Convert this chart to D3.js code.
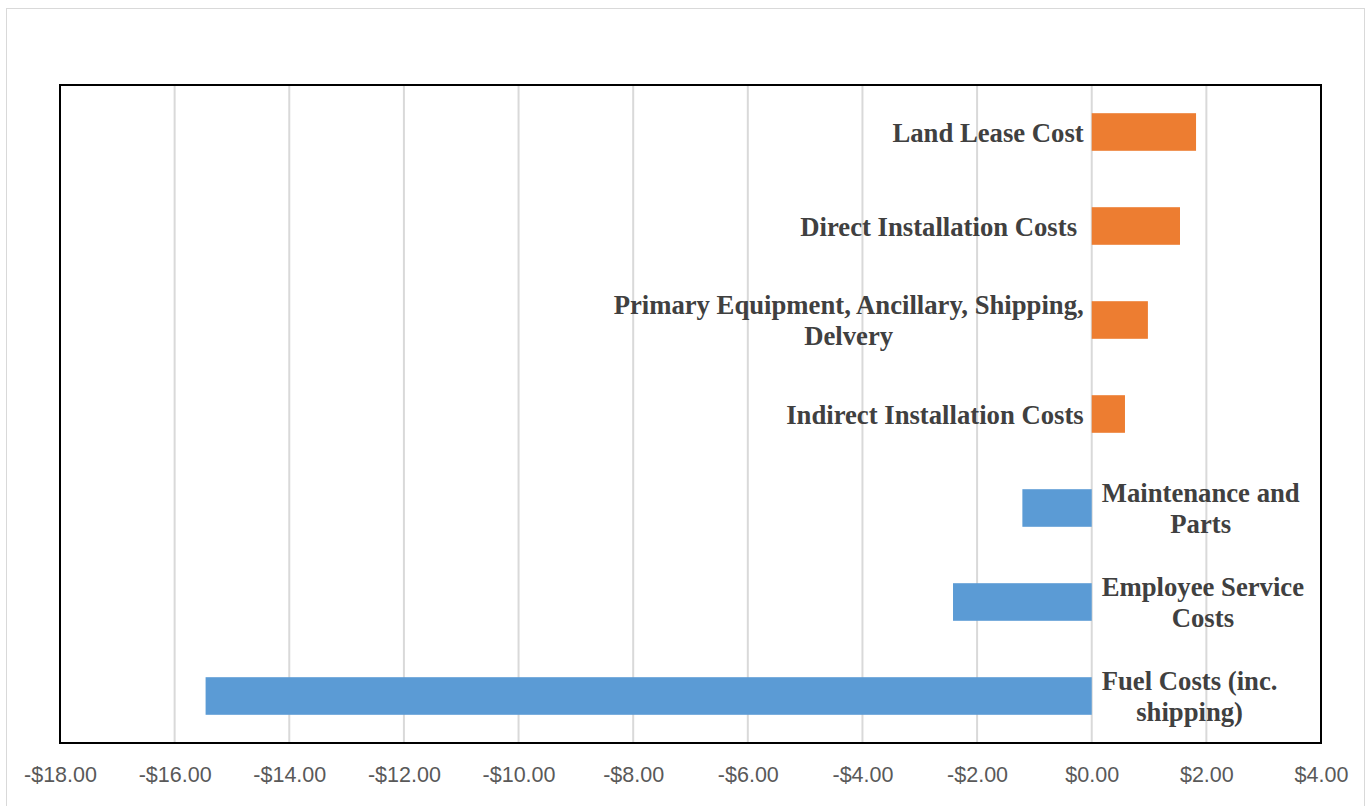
<!DOCTYPE html>
<html><head><meta charset="utf-8">
<script src="https://cdn.jsdelivr.net/npm/d3@7"></script>
<style>
html,body{margin:0;padding:0;background:#fff;}
svg{display:block;}
.cat{font-family:"Liberation Serif","DejaVu Serif";font-weight:bold;font-size:26.7px;fill:#404040;white-space:pre;}
.tick text{font-family:"Liberation Sans","Arial";font-size:21.5px;fill:#595959;}
</style></head>
<body>
<svg id="chart" width="1370" height="806"></svg>
<script>
const categories = [
  ["Land Lease Cost"],
  ["Direct Installation Costs "],
  ["Primary Equipment, Ancillary, Shipping,", "Delvery"],
  ["Indirect Installation Costs"],
  ["Maintenance and", "Parts"],
  ["Employee Service", "Costs"],
  ["Fuel Costs (inc.", "shipping)"]
];
const values = [1.82, 1.54, 0.98, 0.58, -1.21, -2.42, -15.46];
const tickValues = [-18, -16, -14, -12, -10, -8, -6, -4, -2, 0, 2, 4];
const colorPos = "#ED7D31", colorNeg = "#5B9BD5";

const svg = d3.select("#chart");
const plot = {left: 60, right: 1321, top: 85, bottom: 743};

// outer chart border
svg.append("rect").attr("x", 6.5).attr("y", 8.5).attr("width", 1358).attr("height", 810)
  .attr("fill", "none").attr("stroke", "#D9D9D9").attr("stroke-width", 1);

const x = d3.scaleLinear().domain([-18, 4]).range([plot.left, plot.right]);
const y = d3.scaleBand().domain(d3.range(categories.length)).range([plot.top, plot.bottom]).paddingInner(0.6).paddingOuter(0.3);

// gridlines
svg.append("g").selectAll("line").data(tickValues).join("line")
  .attr("x1", d => x(d)).attr("x2", d => x(d))
  .attr("y1", plot.top).attr("y2", plot.bottom)
  .attr("stroke", "#D9D9D9").attr("stroke-width", 2);

// bars
svg.append("g").selectAll("rect").data(values).join("rect")
  .attr("x", d => x(Math.min(0, d)))
  .attr("width", d => Math.abs(x(d) - x(0)))
  .attr("y", (d, i) => y(i))
  .attr("height", y.bandwidth())
  .attr("fill", d => d >= 0 ? colorPos : colorNeg);

// plot border
svg.append("rect").attr("x", plot.left).attr("y", plot.top)
  .attr("width", plot.right - plot.left).attr("height", plot.bottom - plot.top)
  .attr("fill", "none").attr("stroke", "#000").attr("stroke-width", 2);

// x axis
const xAxis = d3.axisBottom(x).tickValues(tickValues).tickSize(0).tickPadding(0)
  .tickFormat(d => (d < 0 ? "-" : "") + "$" + Math.abs(d).toFixed(2));
const ax = svg.append("g").attr("transform", `translate(0,${plot.bottom + 39})`).call(xAxis);
ax.select(".domain").remove();
ax.selectAll("text").attr("dy", "0");

// category labels
const lineH = 31;
categories.forEach((lines, i) => {
  const cy = y(i) + y.bandwidth() / 2;
  const g = svg.append("g");
  const n = lines.length;
  const texts = lines.map((s, k) => g.append("text").attr("class", "cat")
    .attr("y", cy + (k - (n - 1) / 2) * lineH).attr("dy", "0.37em")
    .attr("text-anchor", "middle").text(s));
  const W = d3.max(texts, t => t.node().getComputedTextLength());
  const v = values[i];
  const cx = v >= 0 ? x(0) - 8 - W / 2 : x(0) + 10 + W / 2;
  texts.forEach(t => t.attr("x", cx));
});
</script>
</body></html>
